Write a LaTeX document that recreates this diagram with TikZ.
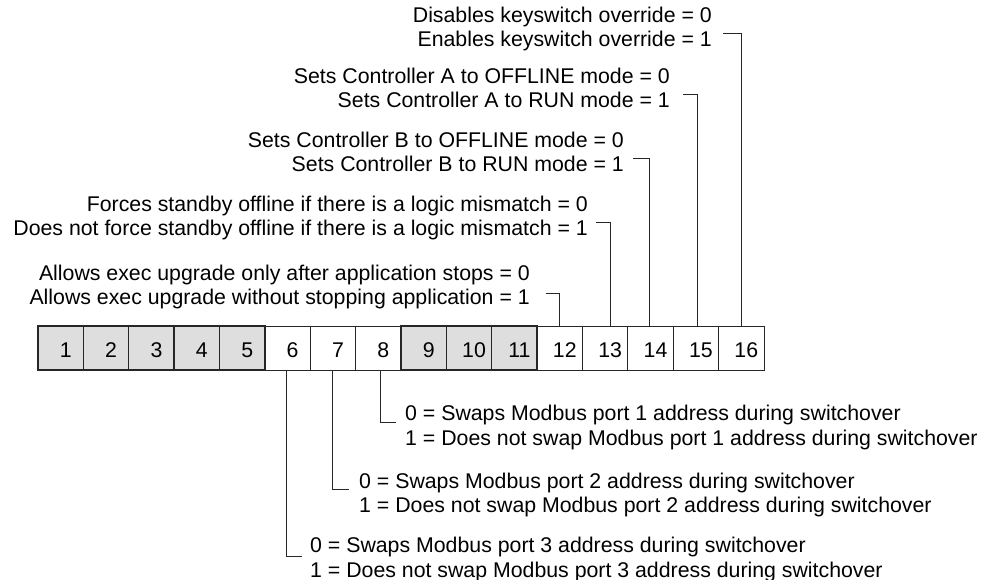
\documentclass[tikz,border=0pt]{standalone}
\usepackage{fontspec}
\setmainfont{Liberation Sans}
\begin{document}
\begin{tikzpicture}[x=1pt,y=-1pt,
  cellw/.style={draw=black!85, line width=0.9pt, fill=white, minimum width=45.375pt, minimum height=44pt, inner sep=0pt, outer sep=0pt},
  cellg/.style={cellw, fill=black!13, line width=1.3pt},
  num/.style={font=\fontsize{21.3}{24}\selectfont, inner sep=0pt},
  lbl/.style={font=\fontsize{21.3}{24}\selectfont, inner sep=0pt},
  lead/.style={draw=black!85, line width=1pt}]
\useasboundingbox (0,0) rectangle (985,580);
% bit cells
\foreach \i in {6,7,8,12,13,14,15,16}
  \node[cellw] (c\i) at ({38+45.375*(\i-0.5)},348) {};
\foreach \i in {1,2,3,4,5,9,10,11}
  \node[cellg] (c\i) at ({38+45.375*(\i-0.5)},348) {};
\foreach \i in {1,...,16}
  \node[num] (n\i) at ([xshift=5pt,yshift=-2pt]c\i.center) {\i};
% upper labels
\node[lbl, anchor=base east] (t16a) at (712,22.5) {Disables keyswitch override = 0};
\node[lbl, anchor=base east] (t16b) at (712,47) {Enables keyswitch override = 1};
\node[lbl, anchor=base east] (t15a) at (670,83.5) {Sets Controller A to OFFLINE mode = 0};
\node[lbl, anchor=base east] (t15b) at (670,108) {Sets Controller A to RUN mode = 1};
\node[lbl, anchor=base east] (t14a) at (624,147.5) {Sets Controller B to OFFLINE mode = 0};
\node[lbl, anchor=base east] (t14b) at (624,172) {Sets Controller B to RUN mode = 1};
\node[lbl, anchor=base east] (t13a) at (588,211.5) {Forces standby offline if there is a logic mismatch = 0};
\node[lbl, anchor=base east] (t13b) at (588,236) {Does not force standby offline if there is a logic mismatch = 1};
\node[lbl, anchor=base east] (t12a) at (530,280) {Allows exec upgrade only after application stops = 0};
\node[lbl, anchor=base east] (t12b) at (530,304.5) {Allows exec upgrade without stopping application = 1};
\coordinate (k16) at (723,34);
\coordinate (k15) at (683,95);
\coordinate (k14) at (633,159);
\coordinate (k13) at (596,223);
\coordinate (k12) at (545.5,293);
\draw[lead] (k16) -| (c16.north);
\draw[lead] (k15) -| ([xshift=2pt]c15.north);
\draw[lead] (k14) -| ([xshift=-1.5pt]c14.north);
\draw[lead] (k13) -| ([xshift=5.5pt]c13.north);
\draw[lead] (k12) -| (c12.north);
% lower labels
\node[lbl, anchor=base west] (b8a) at (405,420.5) {0 = Swaps Modbus port 1 address during switchover};
\node[lbl, anchor=base west] (b8b) at (405,445) {1 = Does not swap Modbus port 1 address during switchover};
\node[lbl, anchor=base west] (b7a) at (359,488) {0 = Swaps Modbus port 2 address during switchover};
\node[lbl, anchor=base west] (b7b) at (359,512.5) {1 = Does not swap Modbus port 2 address during switchover};
\node[lbl, anchor=base west] (b6a) at (310,552.5) {0 = Swaps Modbus port 3 address during switchover};
\node[lbl, anchor=base west] (b6b) at (310,577) {1 = Does not swap Modbus port 3 address during switchover};
\coordinate (k8) at (396,422);
\coordinate (k7) at (348.5,489);
\coordinate (k6) at (301.5,556.5);
\draw[lead] ([xshift=2pt]c8.south) |- (k8);
\draw[lead] (c7.south) |- (k7);
\draw[lead] ([xshift=-1.5pt]c6.south) |- (k6);
\end{tikzpicture}
\end{document}
